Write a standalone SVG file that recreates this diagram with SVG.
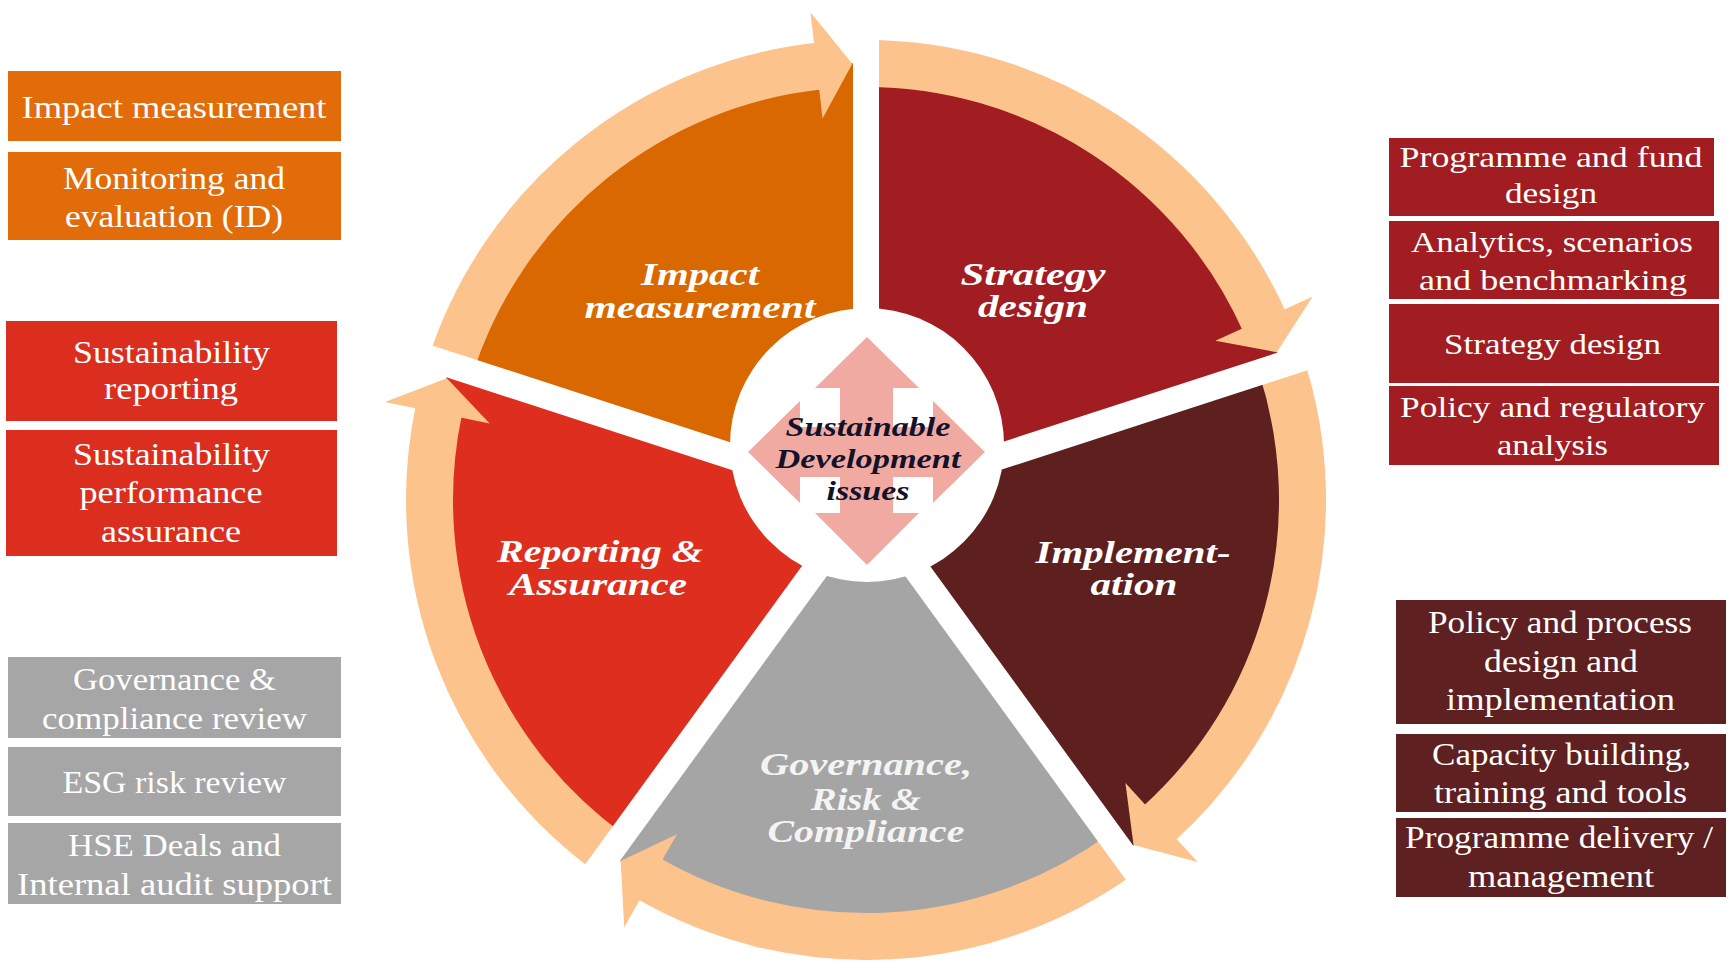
<svg xmlns="http://www.w3.org/2000/svg" width="1728" height="962" viewBox="0 0 1728 962">
<style>
.bt{font-family:"Liberation Serif","Times New Roman",serif;font-size:32px;fill:#ffffff;text-anchor:middle}
.bc{font-family:"Liberation Serif","Times New Roman",serif;font-size:30px;fill:#ffffff;text-anchor:middle}
.sl{font-family:"Liberation Serif","Times New Roman",serif;font-size:31px;font-weight:bold;font-style:italic;fill:#ffffff;text-anchor:middle}
.ct{font-family:"Liberation Serif","Times New Roman",serif;font-size:27px;font-weight:bold;font-style:italic;fill:#12122a;text-anchor:middle}
.ring{fill:none;stroke:#FDC38C;stroke-width:47}
.head{fill:#FDC38C}
.gap{stroke:#ffffff;stroke-width:26;fill:none}
.c-or{fill:#E36C0A}.c-rd{fill:#DC2E1F}.c-gy{fill:#A6A6A6}.c-dr{fill:#A11D21}.c-mr{fill:#5E2020}
</style>
<rect x="0" y="0" width="1728" height="962" fill="#ffffff"/>

<!-- wheel segments -->
<g id="seg-impact"><path d="M866,500 L450.39,364.96 A437,437 0 0 1 866,63 Z" fill="#DA6800"/></g>
<g id="seg-strategy"><path d="M866,500 L866,63 A437,437 0 0 1 1281.61,364.96 Z" fill="#A11D21"/></g>
<g id="seg-implementation"><path d="M866,500 L1281.61,364.96 A437,437 0 0 1 1122.86,853.54 Z" fill="#5E1F1F"/></g>
<g id="seg-governance"><path d="M866,500 L1122.86,853.54 A437,437 0 0 1 609.14,853.54 Z" fill="#A5A5A5"/></g>
<g id="seg-reporting"><path d="M866,500 L609.14,853.54 A437,437 0 0 1 450.39,364.96 Z" fill="#DE2E1E"/></g>

<!-- cycle arrows -->
<g id="connectors">
<path class="ring" d="M450.86,365.11 A436.5,436.5 0 0 1 820.37,65.89"/>
<polygon class="head" points="810.42,12.16 852.29,63.72 822.53,118.47"/>
<path class="ring" d="M866,63.5 A436.5,436.5 0 0 1 1264.76,322.46"/>
<polygon class="head" points="1312.79,296.39 1276.69,352.14 1215.43,340.76"/>
<path class="ring" d="M1281.14,365.11 A436.5,436.5 0 0 1 1158.08,824.38"/>
<polygon class="head" points="1197.71,862 1133.53,844.9 1125.43,783.11"/>
<path class="ring" d="M1122.57,853.14 A436.5,436.5 0 0 1 647.75,878.02"/>
<polygon class="head" points="624.22,927.34 620.65,861.02 676.91,834.22"/>
<path class="ring" d="M609.43,853.14 A436.5,436.5 0 0 1 439.04,409.25"/>
<polygon class="head" points="384.86,402.11 446.83,378.22 489.71,423.44"/>
</g>

<!-- white gaps between segments -->
<g id="gaps">
<line class="gap" x1="866" y1="500" x2="866" y2="0"/>
<line class="gap" x1="866" y1="500" x2="1341.5" y2="345.5"/>
<line class="gap" x1="866" y1="500" x2="1159.9" y2="904.5"/>
<line class="gap" x1="866" y1="500" x2="572.1" y2="904.5"/>
<line class="gap" x1="866" y1="500" x2="390.5" y2="345.5"/>
</g>

<!-- centre -->
<g id="centre">
<circle cx="867" cy="445" r="137" fill="#ffffff"/>
<polygon fill="#F1AAA2" points="867,337 919,388 893,388 893,427 933,427 933,401 985,452 933,503 933,477 893,477 893,513 919,513 867,565 815,513 840,513 840,477 800,477 800,503 748,452 800,401 800,427 840,427 840,388 815,388"/>
<text class="ct" x="868" y="436" textLength="165" lengthAdjust="spacingAndGlyphs">Sustainable</text>
<text class="ct" x="868" y="468" textLength="185" lengthAdjust="spacingAndGlyphs">Development</text>
<text class="ct" x="868" y="500" textLength="83" lengthAdjust="spacingAndGlyphs">issues</text>
</g>

<!-- segment labels -->
<g id="label-impact">
<text class="sl" x="700" y="285" textLength="118" lengthAdjust="spacingAndGlyphs">Impact</text>
<text class="sl" x="700" y="318" textLength="231" lengthAdjust="spacingAndGlyphs">measurement</text>
</g>
<g id="label-strategy">
<text class="sl" x="1033" y="285" textLength="145" lengthAdjust="spacingAndGlyphs">Strategy</text>
<text class="sl" x="1033" y="317" textLength="110" lengthAdjust="spacingAndGlyphs">design</text>
</g>
<g id="label-implementation">
<text class="sl" x="1133" y="563" textLength="195" lengthAdjust="spacingAndGlyphs">Implement-</text>
<text class="sl" x="1134" y="595" textLength="87" lengthAdjust="spacingAndGlyphs">ation</text>
</g>
<g id="label-governance">
<text class="sl" x="866" y="775" textLength="212" lengthAdjust="spacingAndGlyphs" style="fill:#F4F4F4">Governance,</text>
<text class="sl" x="866" y="810" textLength="110" lengthAdjust="spacingAndGlyphs" style="fill:#F4F4F4">Risk &amp;</text>
<text class="sl" x="866" y="842" textLength="197" lengthAdjust="spacingAndGlyphs" style="fill:#F4F4F4">Compliance</text>
</g>
<g id="label-reporting">
<text class="sl" x="600" y="562" textLength="206" lengthAdjust="spacingAndGlyphs">Reporting &amp;</text>
<text class="sl" x="598" y="595" textLength="178" lengthAdjust="spacingAndGlyphs">Assurance</text>
</g>

<!-- left boxes -->
<g id="box-impact-measurement">
<rect class="c-or" x="8" y="71" width="333" height="70"/>
<text class="bt" x="174" y="118" textLength="305" lengthAdjust="spacingAndGlyphs">Impact measurement</text>
</g>
<g id="box-monitoring">
<rect class="c-or" x="8" y="152" width="333" height="88"/>
<text class="bt" x="174" y="189" textLength="222" lengthAdjust="spacingAndGlyphs">Monitoring and</text>
<text class="bt" x="174" y="227" textLength="218" lengthAdjust="spacingAndGlyphs">evaluation (ID)</text>
</g>
<g id="box-sust-reporting">
<rect class="c-rd" x="6" y="321" width="331" height="100"/>
<text class="bt" x="171.5" y="363" textLength="197" lengthAdjust="spacingAndGlyphs">Sustainability</text>
<text class="bt" x="171" y="399" textLength="134" lengthAdjust="spacingAndGlyphs">reporting</text>
</g>
<g id="box-sust-assurance">
<rect class="c-rd" x="6" y="430" width="331" height="126"/>
<text class="bt" x="171.5" y="465" textLength="197" lengthAdjust="spacingAndGlyphs">Sustainability</text>
<text class="bt" x="171" y="503" textLength="183" lengthAdjust="spacingAndGlyphs">performance</text>
<text class="bt" x="171" y="542" textLength="140" lengthAdjust="spacingAndGlyphs">assurance</text>
</g>
<g id="box-gov-review">
<rect class="c-gy" x="8" y="657" width="333" height="81"/>
<text class="bt" x="174.5" y="690" textLength="203" lengthAdjust="spacingAndGlyphs">Governance &amp;</text>
<text class="bt" x="174.5" y="729" textLength="265" lengthAdjust="spacingAndGlyphs">compliance review</text>
</g>
<g id="box-esg">
<rect class="c-gy" x="8" y="747" width="333" height="69"/>
<text class="bt" x="174.5" y="793" textLength="224" lengthAdjust="spacingAndGlyphs">ESG risk review</text>
</g>
<g id="box-hse">
<rect class="c-gy" x="8" y="823" width="333" height="81"/>
<text class="bt" x="174.5" y="856" textLength="213" lengthAdjust="spacingAndGlyphs">HSE Deals and</text>
<text class="bt" x="174.5" y="895" textLength="315" lengthAdjust="spacingAndGlyphs">Internal audit support</text>
</g>

<!-- right top boxes -->
<g id="box-programme-fund">
<rect class="c-dr" x="1389" y="138" width="325" height="78"/>
<text class="bc" x="1551" y="167" textLength="303" lengthAdjust="spacingAndGlyphs">Programme and fund</text>
<text class="bc" x="1551" y="203" textLength="92" lengthAdjust="spacingAndGlyphs">design</text>
</g>
<g id="box-analytics">
<rect class="c-dr" x="1389" y="221" width="330" height="78"/>
<text class="bc" x="1552" y="252" textLength="282" lengthAdjust="spacingAndGlyphs">Analytics, scenarios</text>
<text class="bc" x="1553" y="290" textLength="268" lengthAdjust="spacingAndGlyphs">and benchmarking</text>
</g>
<g id="box-strategy-design">
<rect class="c-dr" x="1389" y="304" width="330" height="79"/>
<text class="bc" x="1552.5" y="354" textLength="217" lengthAdjust="spacingAndGlyphs">Strategy design</text>
</g>
<g id="box-policy-regulatory">
<rect class="c-dr" x="1389" y="386" width="330" height="79"/>
<text class="bc" x="1552.5" y="417" textLength="305" lengthAdjust="spacingAndGlyphs">Policy and regulatory</text>
<text class="bc" x="1552.5" y="455" textLength="111" lengthAdjust="spacingAndGlyphs">analysis</text>
</g>

<!-- right bottom boxes -->
<g id="box-policy-process">
<rect class="c-mr" x="1396" y="600" width="330" height="124"/>
<text class="bt" x="1560" y="633" textLength="264" lengthAdjust="spacingAndGlyphs">Policy and process</text>
<text class="bt" x="1561" y="672" textLength="154" lengthAdjust="spacingAndGlyphs">design and</text>
<text class="bt" x="1560.5" y="710" textLength="229" lengthAdjust="spacingAndGlyphs">implementation</text>
</g>
<g id="box-capacity">
<rect class="c-mr" x="1396" y="734" width="330" height="78"/>
<text class="bt" x="1561.5" y="765" textLength="259" lengthAdjust="spacingAndGlyphs">Capacity building,</text>
<text class="bt" x="1560.5" y="803" textLength="253" lengthAdjust="spacingAndGlyphs">training and tools</text>
</g>
<g id="box-delivery">
<rect class="c-mr" x="1396" y="818" width="330" height="79"/>
<text class="bt" x="1559" y="848" textLength="308" lengthAdjust="spacingAndGlyphs">Programme delivery /</text>
<text class="bt" x="1561" y="887" textLength="186" lengthAdjust="spacingAndGlyphs">management</text>
</g>
</svg>
